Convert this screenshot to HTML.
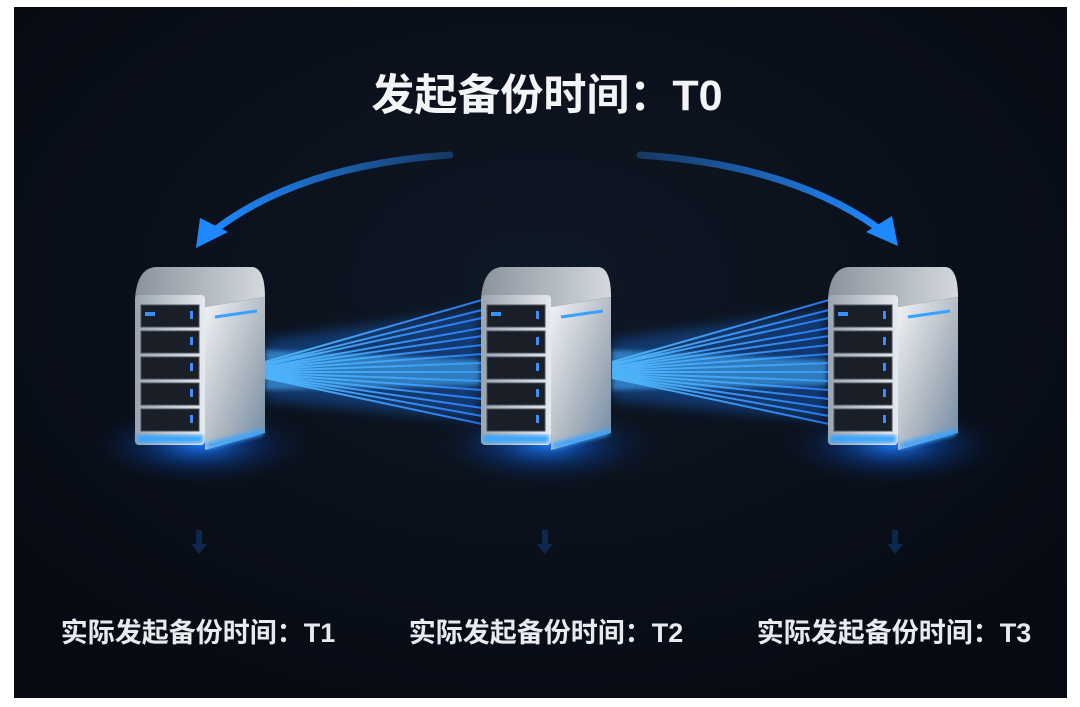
<!DOCTYPE html>
<html><head><meta charset="utf-8"><style>
body{margin:0;background:#fff;width:1080px;height:707px;overflow:hidden}
svg{display:block}
</style></head><body>
<svg width="1080" height="707" viewBox="0 0 1080 707" xmlns="http://www.w3.org/2000/svg">
<defs>
<radialGradient id="bg" cx="50%" cy="40%" r="70%"><stop offset="0" stop-color="#0f1826"/><stop offset="1" stop-color="#060a12"/></radialGradient>
<linearGradient id="front" x1="0" y1="0" x2="1" y2="0"><stop offset="0" stop-color="#9aa4b0"/><stop offset="1" stop-color="#e6eaee"/></linearGradient>
<linearGradient id="side" x1="0" y1="0" x2="1" y2="1"><stop offset="0" stop-color="#f2f4f6"/><stop offset="0.6" stop-color="#a9b3be"/><stop offset="1" stop-color="#6f8aa6"/></linearGradient>
<linearGradient id="top" x1="0" y1="0" x2="1" y2="0"><stop offset="0" stop-color="#8a939d"/><stop offset="1" stop-color="#d4d9de"/></linearGradient>
<radialGradient id="glow"><stop offset="0" stop-color="#1e7dff" stop-opacity="0.9"/><stop offset="0.5" stop-color="#0a4fc0" stop-opacity="0.35"/><stop offset="1" stop-color="#05204a" stop-opacity="0"/></radialGradient>
<linearGradient id="beam" x1="0" y1="0" x2="1" y2="0"><stop offset="0" stop-color="#5cc0ff"/><stop offset="1" stop-color="#2a80ff"/></linearGradient>
<linearGradient id="arcg" x1="0" y1="0" x2="1" y2="0"><stop offset="0" stop-color="#1e88ff"/><stop offset="1" stop-color="#2a8fff" stop-opacity="0.3"/></linearGradient>
<linearGradient id="arcg2" x1="0" y1="0" x2="1" y2="0"><stop offset="0" stop-color="#2a8fff" stop-opacity="0.3"/><stop offset="1" stop-color="#1e88ff"/></linearGradient>
<filter id="blur"><feGaussianBlur stdDeviation="2"/></filter>
<filter id="blur6"><feGaussianBlur stdDeviation="6"/></filter>
<g id="srv">
  <ellipse cx="65" cy="180" rx="110" ry="40" fill="url(#glow)"/>
  <path d="M0,34 Q2,4 20,2 L118,2 Q130,4 130,32 L70,42 Z" fill="url(#top)"/>
  <rect x="0" y="30" width="70" height="150" rx="4" fill="url(#front)"/>
  <polygon points="70,42 130,32 130,168 70,185" fill="url(#side)"/>
  <line x1="80" y1="52" x2="122" y2="46" stroke="#3aa0ff" stroke-width="3"/>
  <g fill="#1a1f27" stroke="#4a5360" stroke-width="1">
    <rect x="6" y="40" width="58" height="22"/><rect x="6" y="66" width="58" height="22"/>
    <rect x="6" y="92" width="58" height="22"/><rect x="6" y="118" width="58" height="22"/>
    <rect x="6" y="144" width="58" height="22"/>
  </g>
  <g fill="#3a8fff"><rect x="10" y="47" width="10" height="4"/><rect x="55" y="72" width="3" height="8"/><rect x="55" y="98" width="3" height="8"/><rect x="55" y="124" width="3" height="8"/><rect x="55" y="150" width="3" height="8"/><rect x="55" y="46" width="3" height="8"/></g>
  <rect x="2" y="170" width="66" height="8" fill="#38a4ff" filter="url(#blur)"/>
  <polygon points="72,178 128,164 128,170 72,184" fill="#38a4ff" filter="url(#blur)"/>
</g>
</defs>
<rect x="14" y="7" width="1053" height="691" fill="url(#bg)"/>
<!-- beams -->
<polygon points="265,340 480,310 480,420 265,400" fill="#1f7fff" opacity="0.35" filter="url(#blur6)"/>
<polygon points="612,340 827,310 827,420 612,400" fill="#1f7fff" opacity="0.35" filter="url(#blur6)"/>
<g stroke="url(#beam)" stroke-width="2" opacity="0.9" fill="none">
  <path d="M265 362 L482 300 M265 364 L482 310 M265 365 L482 318 M265 367 L482 328 M265 368 L482 336 M265 369 L482 345 M265 370 L482 354 M265 371 L482 363 M265 372 L482 372 M265 373 L482 381 M265 374 L482 390 M265 375 L482 399 M265 376 L482 408 M265 377 L482 416 M265 378 L482 424"/>
  <path d="M612 362 L829 300 M612 364 L829 310 M612 365 L829 318 M612 367 L829 328 M612 368 L829 336 M612 369 L829 345 M612 370 L829 354 M612 371 L829 363 M612 372 L829 372 M612 373 L829 381 M612 374 L829 390 M612 375 L829 399 M612 376 L829 408 M612 377 L829 416 M612 378 L829 424"/>
</g>
<polygon points="265,350 480,360 480,385 265,390" fill="#4ab4ff" opacity="0.55" filter="url(#blur)"/>
<polygon points="612,350 827,360 827,385 612,390" fill="#4ab4ff" opacity="0.55" filter="url(#blur)"/>
<!-- arcs -->
<path d="M450 155 Q300 165 215 230" stroke="url(#arcg)" stroke-width="7" fill="none" stroke-linecap="round"/>
<polygon points="196,248 200,218 228,232" fill="#1e88ff"/>
<path d="M640 155 Q790 165 878 228" stroke="url(#arcg2)" stroke-width="7" fill="none" stroke-linecap="round"/>
<polygon points="898,246 866,232 892,216" fill="#1e88ff"/>
<use href="#srv" x="135" y="265"/>
<use href="#srv" x="481" y="265"/>
<use href="#srv" x="828" y="265"/>
<!-- faint down arrows -->
<g fill="#123a72" opacity="0.6">
  <path d="M196 530h6v14h5l-8 10-8-10h5z"/>
  <path d="M542 530h6v14h5l-8 10-8-10h5z"/>
  <path d="M892 530h6v14h5l-8 10-8-10h5z"/>
</g>
<text x="547" y="110" text-anchor="middle" font-family="Liberation Sans, Noto Sans CJK SC, sans-serif" font-weight="bold" font-size="43" fill="#f2f4f6">发起备份时间：T0</text>
<g font-family="Liberation Sans, Noto Sans CJK SC, sans-serif" font-weight="bold" font-size="27" fill="#e8eaee" text-anchor="middle">
<text x="198" y="642">实际发起备份时间：T1</text>
<text x="546" y="642">实际发起备份时间：T2</text>
<text x="894" y="642">实际发起备份时间：T3</text>
</g>
</svg>
</body></html>
